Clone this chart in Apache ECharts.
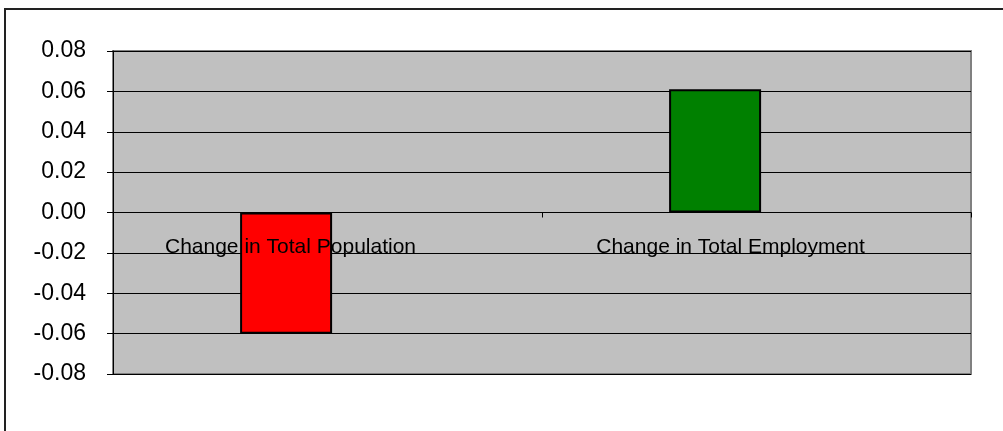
<!DOCTYPE html>
<html>
<head>
<meta charset="utf-8">
<script src="https://cdn.jsdelivr.net/npm/echarts@6/dist/echarts.min.js"></script>
<style>
	html, body { margin: 0; padding: 0; background: #ffffff; }
	#change-chart { width: 1003px; height: 431px; }
</style>
</head>
<body>
<div id="change-chart"></div>
<script>
var categories = ['Change in Total Population', 'Change in Total Employment'];
var changeValues = [-0.06, 0.061];
var barColors = ['#ff0000', '#008000'];
var emptyValues = [null, null];

function changeChart(){
	var changeChart = echarts.init(document.getElementById('change-chart'));

	var options = {
		animation: false,
		textStyle: { fontFamily: 'Liberation Sans, Arial, sans-serif' },
		graphic: [
			{
				type: 'rect',
				shape: { x: 5, y: 9, width: 1100, height: 500 },
				style: { fill: 'none', stroke: '#222222', lineWidth: 2 }
			}
		],
		grid: {
			left: 113,
			right: 32,
			top: 51,
			bottom: 57,
			show: true,
			backgroundColor: '#c0c0c0',
			borderColor: '#808080',
			borderWidth: 2
		},
		xAxis: {
			type: 'category',
			data: categories,
			z: 5,
			axisLine: { onZero: true, lineStyle: { color: '#000000', width: 1 } },
			axisTick: { show: true, length: 5, lineStyle: { color: '#000000' } },
			axisLabel: {
				color: '#000000',
				fontSize: 21,
				margin: -137,
				// labels sit just under the zero line, a bit left of centre
				formatter: function(v, i){ return '{p' + i + '|' + v + '}'; },
				rich: {
					p0: { fontSize: 21, color: '#000000', padding: [0, 74, 0, 0] },
					p1: { fontSize: 21, color: '#000000', padding: [0, 52, 0, 0] }
				}
			},
			splitLine: { show: false }
		},
		yAxis: {
			type: 'value',
			min: -0.08,
			max: 0.08,
			interval: 0.02,
			axisLine: { show: true, lineStyle: { color: '#000000', width: 1 } },
			axisTick: { show: true, length: 6, lineStyle: { color: '#000000' } },
			axisLabel: {
				color: '#000000',
				fontSize: 23,
				margin: 27,
				formatter: function(v){ return v.toFixed(2); }
			},
			splitLine: { show: true, lineStyle: { color: '#000000', width: 1 } }
		},
		series: [
			{
				name: 'change',
				type: 'bar',
				barWidth: 92,
				barGap: '-10%',
				data: changeValues.map(function(v, i){
					return {
						value: v,
						itemStyle: { color: barColors[i], borderColor: '#000000', borderWidth: 2 }
					};
				})
			},
			{
				name: 'empty',
				type: 'bar',
				barWidth: 92,
				data: emptyValues
			}
		]
	};

	changeChart.setOption(options);
}

changeChart();
</script>
</body>
</html>
